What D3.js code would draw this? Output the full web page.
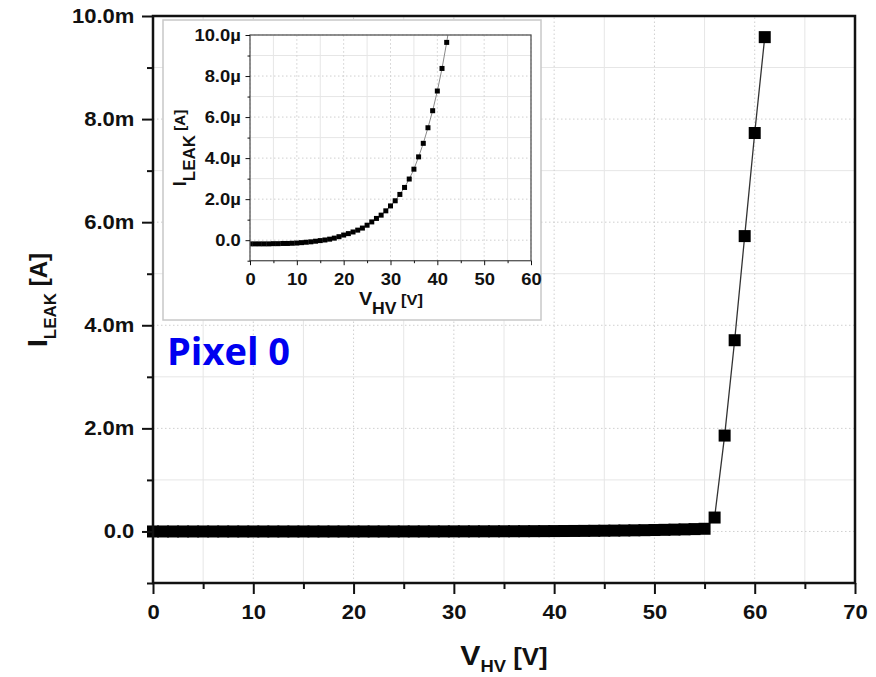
<!DOCTYPE html>
<html>
<head>
<meta charset="utf-8">
<script src="https://cdnjs.cloudflare.com/ajax/libs/d3/7.8.5/d3.min.js"></script>
<style>
  body { margin: 0; background: #fff; }
  svg text { font-family: "Liberation Sans", Arial, sans-serif; font-weight: bold; fill: #111; }
</style>
</head>
<body>
<div id="chart"></div>
<script>
const width = 876
const height = 677

// V_HV sweep [V] and measured leakage current [µA]
const voltage = [0, 1, 2, 3, 4, 5, 6, 7, 8, 9,
                 10, 11, 12, 13, 14, 15, 16, 17, 18, 19,
                 20, 21, 22, 23, 24, 25, 26, 27, 28, 29,
                 30, 31, 32, 33, 34, 35, 36, 37, 38, 39,
                 40, 41, 42, 43, 44, 45, 46, 47, 48, 49,
                 50, 51, 52, 53, 54, 55, 56, 57, 58, 59,
                 60, 61]
const leakCurrent = [-0.18, -0.18, -0.18, -0.18, -0.18, -0.17, -0.17, -0.16, -0.16, -0.15,
                     -0.14, -0.12, -0.10, -0.08, -0.05, -0.02, 0.01, 0.05, 0.10, 0.17,
                     0.25, 0.32, 0.40, 0.49, 0.59, 0.73, 0.89, 1.06, 1.22, 1.43,
                     1.67, 1.92, 2.23, 2.57, 2.98, 3.46, 4.06, 4.72, 5.48, 6.31,
                     7.27, 8.37, 9.64, 11.1, 12.8, 14.6, 16.7, 19.0, 21.6, 24.5,
                     27.8, 31.5, 35.7, 40.5, 45.8, 52.0, 270, 1860, 3710, 5730,
                     7730, 9590]

const mainXTicks = [0, 10, 20, 30, 40, 50, 60, 70]
const mainXMinor = [5, 15, 25, 35, 45, 55, 65]
const mainYTicks = [0, 2, 4, 6, 8, 10]
const mainYLabels = ["0.0", "2.0m", "4.0m", "6.0m", "8.0m", "10.0m"]
const mainYMinor = [-1, 1, 3, 5, 7, 9]

const insetXTicks = [0, 10, 20, 30, 40, 50, 60]
const insetXMinor = [5, 15, 25, 35, 45, 55]
const insetYTicks = [0, 2, 4, 6, 8, 10]
const insetYLabels = ["0.0", "2.0µ", "4.0µ", "6.0µ", "8.0µ", "10.0µ"]
const insetYMinor = [-1, 1, 3, 5, 7, 9]

const points = voltage.map((v, i) => ({v: v, i: leakCurrent[i]}))

const svg = d3.select("#chart")
              .append("svg")
              .attr("width", width)
              .attr("height", height)

svg.append("rect")
   .attr("width", width)
   .attr("height", height)
   .attr("fill", "#fff")

function grid(g, x, y, xMaj, xMin, yMaj, yMin) {
  const [x0, x1] = x.range(), [y0, y1] = y.range()
  g.selectAll(".vmin").data(xMin).enter().append("line")
   .attr("x1", d => x(d)).attr("x2", d => x(d)).attr("y1", y0).attr("y2", y1)
   .attr("stroke", "#e6e6e6").attr("stroke-width", 1)
  g.selectAll(".hmin").data(yMin).enter().append("line")
   .attr("y1", d => y(d)).attr("y2", d => y(d)).attr("x1", x0).attr("x2", x1)
   .attr("stroke", "#e6e6e6").attr("stroke-width", 1)
  g.selectAll(".vmaj").data(xMaj).enter().append("line")
   .attr("x1", d => x(d)).attr("x2", d => x(d)).attr("y1", y0).attr("y2", y1)
   .attr("stroke", "#cfcfcf").attr("stroke-width", 1).attr("stroke-dasharray", "1.5,2.5")
  g.selectAll(".hmaj").data(yMaj).enter().append("line")
   .attr("y1", d => y(d)).attr("y2", d => y(d)).attr("x1", x0).attr("x2", x1)
   .attr("stroke", "#cfcfcf").attr("stroke-width", 1).attr("stroke-dasharray", "1.5,2.5")
}

function axes(g, x, y, o) {
  const bottom = y.range()[0], left = x.range()[0]
  const styleAxis = a => {
    a.select(".domain").remove()
    a.selectAll("line").attr("stroke", "#111").attr("stroke-width", o.tickWidth)
    a.attr("font-family", null).attr("font-size", o.fontSize)
    a.selectAll("text").attr("transform", `scale(${o.stretch},1)`).attr("fill", "#111")
  }
  g.append("g").attr("transform", `translate(0,${bottom})`)
   .call(d3.axisBottom(x).tickValues(o.xMin).tickSize(o.minor).tickFormat(""))
   .call(styleAxis)
  g.append("g").attr("transform", `translate(0,${bottom})`)
   .call(d3.axisBottom(x).tickValues(o.xMaj).tickSize(o.major).tickPadding(o.xPad).tickFormat(d3.format("d")))
   .call(styleAxis)
  g.append("g").attr("transform", `translate(${left},0)`)
   .call(d3.axisLeft(y).tickValues(o.yMin).tickSize(o.minor).tickFormat(""))
   .call(styleAxis)
  g.append("g").attr("transform", `translate(${left},0)`)
   .call(d3.axisLeft(y).tickValues(o.yMaj).tickSize(o.major).tickPadding(o.yPad)
           .tickFormat((d, k) => o.yLabels[k]))
   .call(styleAxis)
}

function title(g, tx, ty, rot, parts, stretch) {
  const t = g.append("text")
             .attr("transform", `translate(${tx},${ty}) rotate(${rot}) scale(${stretch},1)`)
             .attr("text-anchor", "middle")
  parts.forEach(p => t.append("tspan").attr("font-size", p[1]).attr("dy", p[2]).text(p[0]))
}

// Main chart
const x = d3.scaleLinear().domain([0, 70]).range([153, 855])
const y = d3.scaleLinear().domain([-1, 10]).range([583, 16])

const main = svg.append("g")
grid(main, x, y, mainXTicks, mainXMinor, mainYTicks, mainYMinor)

main.append("path")
    .datum(points)
    .attr("fill", "none")
    .attr("stroke", "#333")
    .attr("stroke-width", 1.3)
    .attr("d", d3.line().x(d => x(d.v)).y(d => y(d.i / 1000)))

main.selectAll(".pt")
    .data(points)
    .enter()
    .append("rect")
    .attr("x", d => x(d.v) - 6)
    .attr("y", d => y(d.i / 1000) - 6)
    .attr("width", 12)
    .attr("height", 12)
    .attr("fill", "#000")

main.append("rect")
    .attr("x", 153).attr("y", 16)
    .attr("width", 702).attr("height", 567)
    .attr("fill", "none")
    .attr("stroke", "#111")
    .attr("stroke-width", 2.5)

axes(main, x, y, {xMaj: mainXTicks, xMin: mainXMinor, yMaj: mainYTicks, yMin: mainYMinor,
                  yLabels: mainYLabels, major: 11, minor: 6, xPad: 11, yPad: 5.5,
                  tickWidth: 2, fontSize: 19.5, stretch: 1.13})

title(svg, 504, 665, 0, [["V", 28, 0], ["HV", 17, 7], [" [V]", 24, -7]], 1.08)
title(svg, 47, 300, -90, [["I", 28, 0], ["LEAK", 17, 9], [" [A]", 24, -9]], 1)

// Inset
svg.append("rect")
   .attr("x", 163).attr("y", 20)
   .attr("width", 378).attr("height", 300)
   .attr("fill", "#fff")
   .attr("stroke", "#c8c8c8")
   .attr("stroke-width", 1.5)

const xi = d3.scaleLinear().domain([0, 60]).range([250, 531])
const yi = d3.scaleLinear().domain([-1, 10]).range([260.7, 35])

const inset = svg.append("g")
grid(inset, xi, yi, insetXTicks, insetXMinor, insetYTicks, insetYMinor)

inset.append("clipPath")
     .attr("id", "insetClip")
     .append("rect")
     .attr("x", 250).attr("y", 35)
     .attr("width", 281).attr("height", 225.7)

const insetData = inset.append("g").attr("clip-path", "url(#insetClip)")

insetData.append("path")
         .datum(points)
         .attr("fill", "none")
         .attr("stroke", "#888")
         .attr("stroke-width", 1)
         .attr("d", d3.line().x(d => xi(d.v)).y(d => yi(d.i)))

insetData.selectAll(".pt")
         .data(points)
         .enter()
         .append("rect")
         .attr("x", d => xi(d.v) - 2.5)
         .attr("y", d => yi(d.i) - 2.5)
         .attr("width", 5)
         .attr("height", 5)
         .attr("fill", "#000")

inset.append("rect")
     .attr("x", 250).attr("y", 35)
     .attr("width", 281).attr("height", 225.7)
     .attr("fill", "none")
     .attr("stroke", "#555")
     .attr("stroke-width", 1.3)

axes(inset, xi, yi, {xMaj: insetXTicks, xMin: insetXMinor, yMaj: insetYTicks, yMin: insetYMinor,
                     yLabels: insetYLabels, major: 4.5, minor: 2.5, xPad: 8, yPad: 3.5,
                     tickWidth: 1, fontSize: 16, stretch: 1.15})

title(svg, 391, 305, 0, [["V", 18, 0], ["HV", 16, 9], [" [V]", 15, -9]], 1.1)
title(svg, 186, 148, -90, [["I", 18, 0], ["LEAK", 17, 9], [" [A]", 15, -10]], 1)

// Label
svg.append("text")
   .attr("x", 167)
   .attr("y", 365)
   .attr("font-size", 38)
   .style("font-family", "'Open Sans', sans-serif")
   .style("fill", "#0000f0")
   .text("Pixel 0")
</script>
</body>
</html>
